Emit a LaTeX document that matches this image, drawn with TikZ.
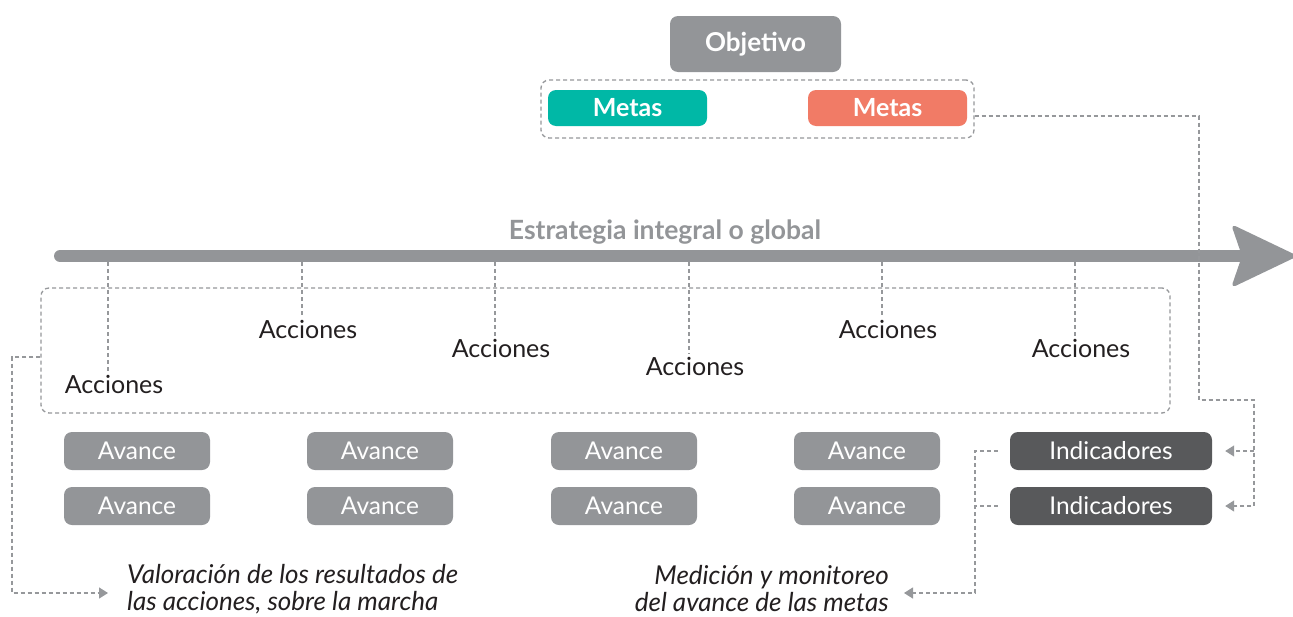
\documentclass[tikz,border=0pt]{standalone}
\usepackage{fontspec}
\setmainfont{Lato}
\usepackage{tikz}
\usetikzlibrary{arrows.meta}
\usepackage{xcolor}

\definecolor{boxgray}{RGB}{147,149,152}
\definecolor{darkbox}{RGB}{88,89,91}
\definecolor{tealmeta}{RGB}{0,184,166}
\definecolor{salmonmeta}{RGB}{241,123,102}
\definecolor{dashgray}{RGB}{150,152,155}
\definecolor{textblack}{RGB}{35,31,32}

\tikzset{
	dline/.style = {dashgray, line width = 1.3pt, dash pattern = on 4pt off 3pt},
	tip/.style = {-{Triangle[length=9pt, width=11pt]}},
	gbox/.style = {fill = boxgray, rounded corners = 8pt, text = white, inner sep = 0pt,
		font = \fontsize{24.5}{28}\selectfont},
	mbox/.style = {rounded corners = 8pt, text = white, inner sep = 0pt,
		minimum width = 159pt, minimum height = 36pt, font = \bfseries\fontsize{25}{28}\selectfont},
	avbox/.style = {gbox, minimum width = 146pt, minimum height = 38pt},
	indbox/.style = {gbox, fill = darkbox, minimum width = 202pt, minimum height = 38pt},
	frame/.style = {draw, dline, rounded corners = 8pt, inner sep = 0pt},
	accion/.style = {text = textblack, inner sep = 3pt, font = \fontsize{25}{28}\selectfont},
	nota/.style = {text = textblack, inner sep = 0pt, font = \itshape\fontsize{26}{27}\selectfont}
}

\begin{document}
\begin{tikzpicture}[x = 1pt, y = -1pt]
	\useasboundingbox[fill = white] (0, 0) rectangle (1293, 616);
	% objetivo y metas
	\node[gbox, minimum width = 171pt, minimum height = 56pt, font = \bfseries\fontsize{26}{28}\selectfont] (obj) at (755.5, 44) {Objetivo};
	\node[frame, minimum width = 433pt, minimum height = 58pt] (metbox) at (757.5, 109) {};
	\node[mbox, fill = tealmeta] (met1) at (627.5, 108) {Metas};
	\node[mbox, fill = salmonmeta] (met2) at (887.5, 108) {Metas};
	% estrategia
	\draw[boxgray, line width = 12pt, line cap = round] (60, 256) -- (1240, 256);
	\fill[boxgray, rounded corners = 5pt] (1231, 224) -- (1298, 256) -- (1231, 288) -- (1242, 256) -- cycle;
	\node[text = boxgray, font = \bfseries\fontsize{26.5}{28}\selectfont] (est) at (665, 232) {Estrategia integral o global};
	% acciones
	\node[frame, minimum width = 1129pt, minimum height = 125pt] (acbox) at (605.5, 350.5) {};
	\node[accion] (acc1) at (114,  384) {Acciones};
	\node[accion] (acc2) at (308,  329) {Acciones};
	\node[accion] (acc3) at (501,  348) {Acciones};
	\node[accion] (acc4) at (695,  366) {Acciones};
	\node[accion] (acc5) at (888,  329) {Acciones};
	\node[accion] (acc6) at (1081, 348) {Acciones};
	\coordinate (t1) at (108,  262);
	\coordinate (t2) at (302,  262);
	\coordinate (t3) at (495,  262);
	\coordinate (t4) at (689,  262);
	\coordinate (t5) at (882,  262);
	\coordinate (t6) at (1075, 262);
	\draw[dline] (t1) -- (t1 |- acc1.north);
	\draw[dline] (t2) -- (t2 |- acc2.north);
	\draw[dline] (t3) -- (t3 |- acc3.north);
	\draw[dline] (t4) -- (t4 |- acc4.north);
	\draw[dline] (t5) -- (t5 |- acc5.north);
	\draw[dline] (t6) -- (t6 |- acc6.north);
	% avances e indicadores
	\node[avbox] (av1) at (137, 451) {Avance};
	\node[avbox] (av2) at (380, 451) {Avance};
	\node[avbox] (av3) at (624, 451) {Avance};
	\node[avbox] (av4) at (867, 451) {Avance};
	\node[avbox] (av5) at (137, 506) {Avance};
	\node[avbox] (av6) at (380, 506) {Avance};
	\node[avbox] (av7) at (624, 506) {Avance};
	\node[avbox] (av8) at (867, 506) {Avance};
	\node[indbox] (ind1) at (1111, 451) {Indicadores};
	\node[indbox] (ind2) at (1111, 506) {Indicadores};
	% notas
	\node[nota, anchor = west, align = left] (val) at (127, 589) {Valoración de los resultados de\\las acciones, sobre la marcha};
	\node[nota, anchor = east, align = right] (med) at (889, 589) {Medición y monitoreo\\del avance de las metas};
	% conectores
	\coordinate (r1) at (1199, 400);
	\coordinate (r2) at (1254, 400);
	\draw[dline, tip, shorten > = 13pt] ([yshift = -7pt]metbox.east) -| (r1) -- (r2) |- (ind2.east);
	\draw[dline, tip, shorten > = 13pt] (r2 |- ind1.east) -- (ind1.east);
	\coordinate (m1) at (975, 593);
	\draw[dline, tip, shorten > = 15pt] ([xshift = -12pt]ind1.west) -| (m1) -- (med.east |- m1);
	\draw[dline] ([xshift = -12pt]ind2.west) -- (ind2.west -| m1);
	\coordinate (l1) at (12, 357);
	\coordinate (l2) at (12, 593);
	\draw[dline, tip, shorten > = 19pt] ([yshift = -6.5pt]acbox.west) -- (l1) -- (l2) -- (val.west |- l2);
\end{tikzpicture}
\end{document}
